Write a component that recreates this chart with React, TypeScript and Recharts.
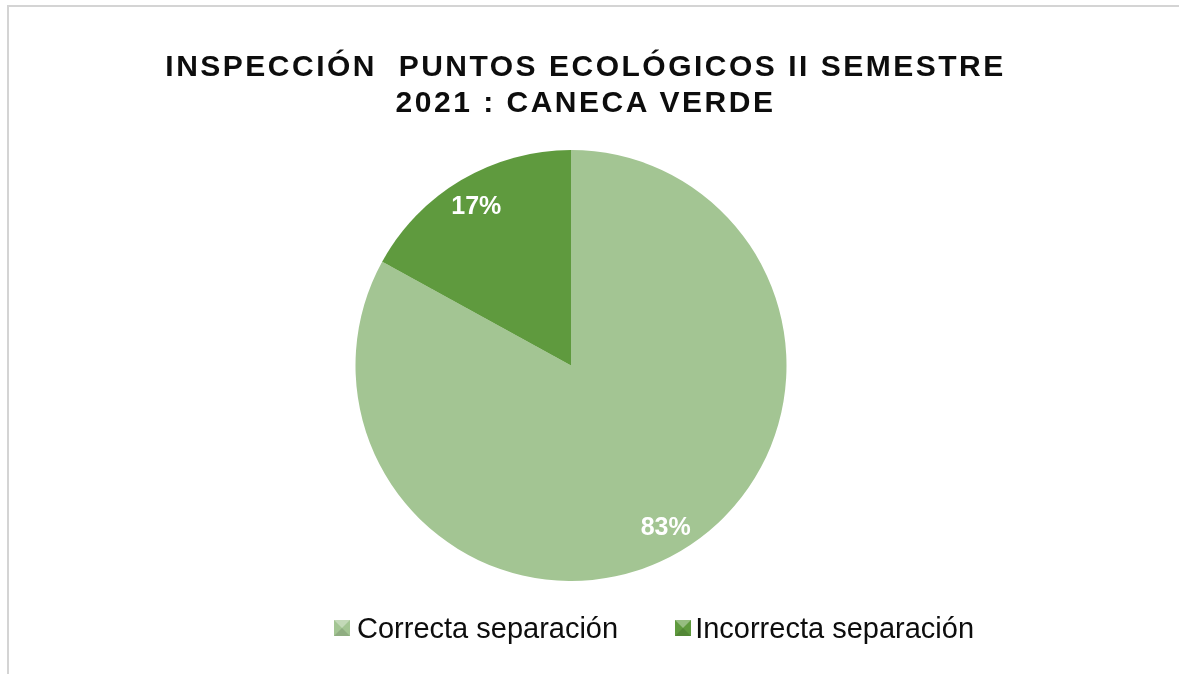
import { PieChart, Pie, Cell, Legend } from 'recharts'

const categories = ['Correcta separación', 'Incorrecta separación']
const values = [83, 17]
const COLORS = ['#a3c593', '#5f9a3e']

const titleLines = ['INSPECCIÓN  PUNTOS ECOLÓGICOS II SEMESTRE', '2021 : CANECA VERDE']

const chartData = categories.map((name, i) => ({ name, value: values[i], color: COLORS[i] }))

const RADIAN = Math.PI / 180

const renderLabel = (props: any) => {
  const { cx, cy, midAngle, percent } = props
  const r = 186
  const x = cx + r * Math.cos(-midAngle * RADIAN)
  const y = cy + r * Math.sin(-midAngle * RADIAN)
  return (
    <text
      x={x}
      y={y + 9}
      fill="#ffffff"
      textAnchor="middle"
      fontFamily="Liberation Sans, Arial, sans-serif"
      fontWeight="bold"
      fontSize={25}
    >
      {`${Math.round(percent * 100)}%`}
    </text>
  )
}

const LegendContent = ({ payload }: any) => (
  <div style={{ display: 'flex', alignItems: 'center', fontFamily: 'Liberation Sans, Arial, sans-serif' }}>
    {(payload || []).map((entry: any, i: number) => (
      <div
        key={`legend-${entry.value}`}
        style={{ display: 'flex', alignItems: 'center', marginRight: i === 0 ? 57 : 0, height: 34 }}
      >
        <svg width={16} height={16} style={{ marginRight: i === 0 ? 7 : 4 }}>
          <rect x={0} y={0} width={16} height={16} fill={entry.color} />
          <polygon points="0,0 16,0 8,8" fill="#ffffff" opacity={0.35} />
          <polygon points="0,16 16,16 8,8" fill="#000000" opacity={0.12} />
        </svg>
        <span style={{ fontSize: 29, color: '#0d0d0d', lineHeight: '34px' }}>{entry.value}</span>
      </div>
    ))}
  </div>
)

export default function App() {
  return (
    <div style={{ position: 'relative', width: 1163, height: 650 }}>
      <div
        style={{
          position: 'fixed',
          left: 7,
          top: 5,
          width: 1172,
          height: 669,
          borderTop: '2px solid #d4d4d4',
          borderLeft: '2px solid #d4d4d4',
          boxSizing: 'border-box',
        }}
      />
      <div
        style={{
          position: 'absolute',
          left: 0,
          top: 40,
          width: 1149,
          paddingLeft: 3,
          textAlign: 'center',
          fontFamily: 'Liberation Sans, Arial, sans-serif',
          fontWeight: 'bold',
          fontSize: 30,
          lineHeight: '36px',
          letterSpacing: 2.5,
          color: '#0d0d0d',
          whiteSpace: 'pre',
        }}
      >
        {titleLines.map((line) => (
          <div key={line}>{line}</div>
        ))}
      </div>
      <div style={{ position: 'absolute', left: 0, top: 0 }}>
        <PieChart width={1163} height={650} margin={{ top: 0, right: 0, bottom: 0, left: 0 }}>
          <Pie
            data={chartData}
            dataKey="value"
            nameKey="name"
            cx={563}
            cy={357.5}
            outerRadius={215.5}
            startAngle={90}
            endAngle={-270}
            stroke="none"
            label={renderLabel}
            labelLine={false}
            isAnimationActive={false}
          >
            {chartData.map((entry) => (
              <Cell key={`slice-${entry.name}`} fill={entry.color} />
            ))}
          </Pie>
          <Legend
            content={<LegendContent />}
            wrapperStyle={{ position: 'absolute', left: 326, top: 603, width: 'auto' }}
          />
        </PieChart>
      </div>
    </div>
  )
}
